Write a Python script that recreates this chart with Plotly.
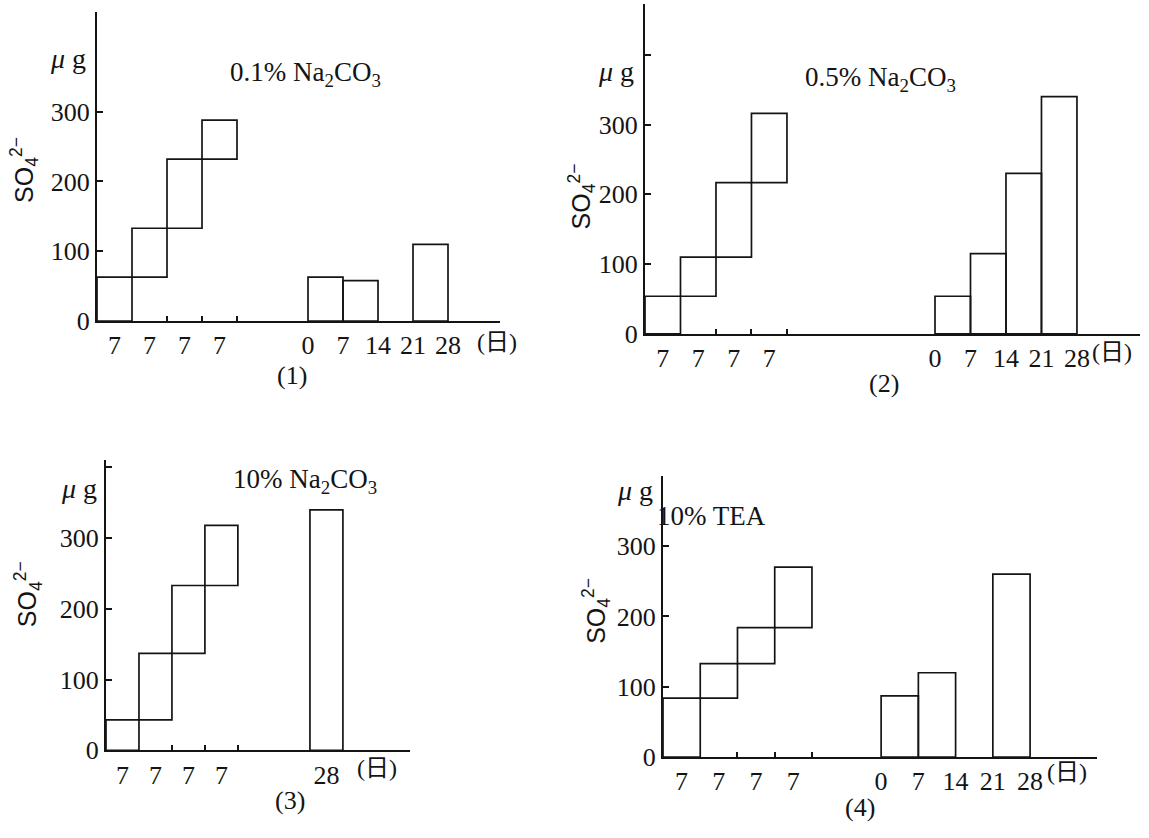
import plotly.graph_objects as go

# ---------------- data ----------------
titles = ["0.1% Na<sub>2</sub>CO<sub>3</sub>", "0.5% Na<sub>2</sub>CO<sub>3</sub>",
          "10% Na<sub>2</sub>CO<sub>3</sub>", "10% TEA"]
panel_labels = ["(1)", "(2)", "(3)", "(4)"]
week_labels = ["7", "7", "7", "7"]
day_labels = ["0", "7", "14", "21", "28"]
unit_label = "(日)"

# cumulative SO4 (µg) after each 7-day step (staircase, left group)
cum1 = [63, 133, 232, 288]
cum2 = [54, 110, 217, 316]
cum3 = [43, 137, 233, 318]
cum4 = [84, 133, 184, 270]
# per-interval amounts 0-7, 7-14, 14-21, 21-28 days (right group)
int1 = [63, 58, None, 110]
int2 = [54, 115, 230, 340]
int3 = [340]            # single 28-day value
int4 = [87, 120, None, 260]

cums = [cum1, cum2, cum3, cum4]
ints = [int1, int2, int3, int4]

# ---------------- layout geometry (pixels) ----------------
W, H = 1149, 838
geo = [
    dict(l=97, r=500, t=12, b=327, ppd=5.0, off=42.2, ymax=443, ytk=[0, 100, 200, 300]),
    dict(l=645, r=1140, t=4, b=340, ppd=5.07, off=57.2, ymax=473, ytk=[0, 100, 200, 300, 400]),
    dict(l=106, r=410, t=468, b=764, ppd=4.71, off=43.3, ymax=411, ytk=[0, 100, 200, 300, 400]),
    dict(l=663, r=1097, t=485, b=771, ppd=5.32, off=41.0, ymax=399, ytk=[0, 100, 200, 300]),
]
ann_pos = [
    dict(title=(305, 75), lab=(292, 382), mu=(88, 60), so=(24, 173), unit=(497, 348)),
    dict(title=(880, 80), lab=(884, 390), mu=(636, 73), so=(582, 200), unit=(1112, 358)),
    dict(title=(305, 490), lab=(290, 815), mu=(99, 497), so=(28, 605), unit=(377, 782)),
    dict(title=(712, 525), lab=(860, 822), mu=(655, 499), so=(596, 622), unit=(1067, 786)),
]

def px(x):
    return x / W

def py(y):
    return 1 - y / H

INK = "#141414"
SERIF = "Liberation Serif, Noto Sans CJK SC"
SANS = "Liberation Sans"

fig = go.Figure()
annotations = []
layout = {}

for i in range(4):
    g = geo[i]
    n = i + 1
    xa = "x" if n == 1 else f"x{n}"
    ya = "y" if n == 1 else f"y{n}"
    xov = f"x{n + 4}"
    xmax = (g["r"] - g["l"]) / g["ppd"]

    # staircase (cumulative) bars
    cum = cums[i]
    bases = [0] + cum[:-1]
    heights = [c - b for c, b in zip(cum, bases)]
    centers = [3.5 + 7 * k for k in range(len(cum))]
    fig.add_trace(go.Bar(x=centers, y=heights, base=bases, width=7,
                         marker=dict(color="rgba(0,0,0,0)", line=dict(color=INK, width=1.7)),
                         xaxis=xa, yaxis=ya, showlegend=False, hoverinfo="skip"))
    # interval bars
    iv = ints[i]
    xs = [g["off"] + 3.5 + 7 * k for k in range(len(iv))]
    fig.add_trace(go.Bar(x=xs, y=iv, width=7,
                         marker=dict(color="rgba(0,0,0,0)", line=dict(color=INK, width=1.7)),
                         xaxis=xa, yaxis=ya, showlegend=False, hoverinfo="skip"))

    # tick labels
    tv = centers[:]
    tt = week_labels[:]
    if len(iv) == 1:
        tv += [g["off"] + 3.5]
        tt += [day_labels[-1]]
    else:
        tv += [g["off"] + 7 * k for k in range(len(day_labels))]
        tt += day_labels

    key_x = "xaxis" if n == 1 else f"xaxis{n}"
    key_y = "yaxis" if n == 1 else f"yaxis{n}"
    layout[key_x] = dict(domain=[px(g["l"]), px(g["r"])], range=[0, xmax], anchor=ya,
                         showline=True, linecolor=INK, linewidth=2, showgrid=False,
                         zeroline=False, ticks="", tickvals=tv, ticktext=tt, tickangle=0,
                         tickfont=dict(family=SERIF, size=26, color=INK), fixedrange=True)
    layout[key_y] = dict(domain=[py(g["b"]), py(g["t"])], range=[0, g["ymax"]], anchor=xa,
                         showline=True, linecolor=INK, linewidth=2, showgrid=False,
                         zeroline=False, ticks="inside", ticklen=6, tickwidth=2, tickcolor=INK,
                         tickvals=g["ytk"], ticktext=[str(v) if v <= 300 else "" for v in g["ytk"]],
                         tickfont=dict(family=SERIF, size=26, color=INK), fixedrange=True)
    # overlay axis carrying the small boundary tick marks
    layout[f"xaxis{n + 4}"] = dict(overlaying=xa, anchor=ya, range=[0, xmax],
                                   domain=[px(g["l"]), px(g["r"])],
                                   showline=False, showgrid=False, zeroline=False,
                                   ticks="inside", ticklen=5, tickwidth=1.5, tickcolor=INK,
                                   tickvals=[14, 21, 28], showticklabels=False,
                                   side="bottom", fixedrange=True)
    fig.add_trace(go.Scatter(x=[None], y=[None], xaxis=xov, yaxis=ya, showlegend=False,
                             hoverinfo="skip"))

    a = ann_pos[i]
    common = dict(xref="paper", yref="paper", showarrow=False, yanchor="middle")
    annotations.append(dict(text=titles[i], x=px(a["title"][0]), y=py(a["title"][1]),
                            xanchor="center", font=dict(family=SERIF, size=27, color=INK), **common))
    annotations.append(dict(text=panel_labels[i], x=px(a["lab"][0]), y=py(a["lab"][1]),
                            xanchor="center", font=dict(family=SERIF, size=26, color=INK), **common))
    annotations.append(dict(text="<i>μ</i> g", x=px(a["mu"][0]), y=py(a["mu"][1]),
                            xanchor="right", font=dict(family=SERIF, size=28, color=INK), **common))
    annotations.append(dict(text="SO<sub>4</sub><sup>2−</sup>", x=px(a["so"][0]), y=py(a["so"][1]),
                            xanchor="center", textangle=-90,
                            font=dict(family=SANS, size=25, color=INK), **common))
    annotations.append(dict(text=unit_label, x=px(a["unit"][0]), y=py(a["unit"][1]),
                            xanchor="center", font=dict(family=SERIF, size=24, color=INK), **common))

fig.update_layout(width=W, height=H, margin=dict(l=0, r=0, t=0, b=0),
                  paper_bgcolor="white", plot_bgcolor="white", barmode="overlay",
                  annotations=annotations, **layout)

fig.write_html("out.html")
